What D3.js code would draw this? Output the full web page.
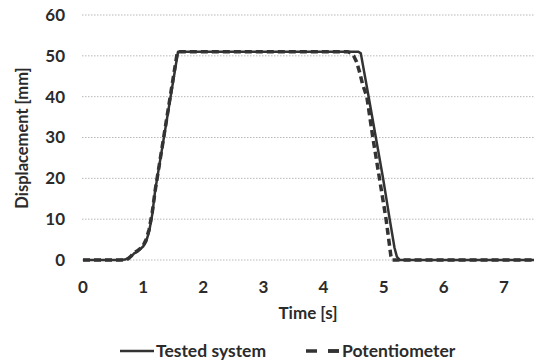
<!DOCTYPE html>
<html>
<head>
<meta charset="utf-8">
<script src="https://cdn.jsdelivr.net/npm/d3@7"></script>
<style>
  html, body { margin: 0; padding: 0; background: #fff; }
  svg { display: block; }
  text { font-family: Lato, "Open Sans", sans-serif; font-weight: bold; fill: #2b2b2b; }
</style>
</head>
<body>
<svg id="chart"></svg>
<script>
// values (time in s, displacement in mm)
const testedTime = [0, 0.6, 0.7, 0.8, 0.85, 0.9, 1.0, 1.05, 1.1, 1.15, 1.2, 1.58, 1.62, 4.58, 4.62, 4.75, 4.87, 4.99, 5.1, 5.18, 5.22, 5.27, 5.35, 6, 7, 7.5];
const testedValue = [0, 0, 0.1, 0.8, 1.6, 2.0, 3.3, 4.5, 7, 11, 17, 51, 51, 51, 50.6, 40, 30, 20, 10, 3, 0.8, 0, 0, 0, 0, 0];

const potTime = [0, 0.65, 0.75, 0.8, 0.85, 0.9, 0.95, 1.0, 1.05, 1.1, 1.15, 1.2, 1.57, 1.62, 4.4, 4.45, 4.5, 4.55, 4.6, 4.65, 4.72, 4.82, 4.93, 5.04, 5.12, 5.14, 5.3, 7.5];
const potValue = [0, 0, 0.3, 1, 1.8, 2.2, 2.8, 3.5, 5, 7.5, 11.5, 17, 51, 51, 51, 50.7, 50, 48.5, 46, 43, 40, 30, 20, 10, 1, 0, 0, 0];

const xTicks = [0, 1, 2, 3, 4, 5, 6, 7];
const yTicks = [0, 10, 20, 30, 40, 50, 60];

const width = 534, height = 363;
const margin = { left: 82, right: 0, top: 15, bottom: 103 };

const svg = d3.select("#chart").attr("width", width).attr("height", height);

const x = d3.scaleLinear().domain([0, 7.5]).range([margin.left + 1, width]);
const y = d3.scaleLinear().domain([0, 60]).range([height - margin.bottom, margin.top]);

// dotted grid
svg.append("g")
  .selectAll("line")
  .data(yTicks)
  .join("line")
  .attr("x1", margin.left)
  .attr("x2", width)
  .attr("y1", d => y(d))
  .attr("y2", d => y(d))
  .attr("stroke", "#b8b8b8")
  .attr("stroke-width", 1)
  .attr("stroke-dasharray", "1.5,1.5");

// y tick labels
svg.append("g")
  .selectAll("text")
  .data(yTicks)
  .join("text")
  .attr("x", 65)
  .attr("y", d => y(d))
  .attr("dy", "0.35em")
  .attr("text-anchor", "end")
  .style("font-size", "17px")
  .text(d => d);

// x tick labels
svg.append("g")
  .selectAll("text")
  .data(xTicks)
  .join("text")
  .attr("x", d => x(d))
  .attr("y", 287)
  .attr("dy", "0.35em")
  .attr("text-anchor", "middle")
  .style("font-size", "17px")
  .text(d => d);

// axis titles
svg.append("text")
  .attr("transform", "translate(22," + 138 + ") rotate(-90)")
  .attr("text-anchor", "middle")
  .attr("dy", "0.35em")
  .style("font-size", "16.5px")
  .text("Displacement [mm]");

svg.append("text")
  .attr("x", 308)
  .attr("y", 313)
  .attr("dy", "0.35em")
  .attr("text-anchor", "middle")
  .style("font-size", "17px")
  .text("Time [s]");

const line = d3.line()
  .x(d => x(d[0]))
  .y(d => y(d[1]));

const testedData = testedTime.map((t, i) => [t, testedValue[i]]);
const potData = potTime.map((t, i) => [t, potValue[i]]);

svg.append("path")
  .datum(testedData)
  .attr("d", line)
  .attr("fill", "none")
  .attr("stroke", "#333")
  .attr("stroke-width", 2.5)
  .attr("stroke-linejoin", "round");

svg.append("path")
  .datum(potData)
  .attr("d", line)
  .attr("fill", "none")
  .attr("stroke", "#333")
  .attr("stroke-width", 3.5)
  .attr("stroke-dasharray", "7,4");

// legend
const legend = svg.append("g");
legend.append("line")
  .attr("x1", 120).attr("x2", 154)
  .attr("y1", 351).attr("y2", 351)
  .attr("stroke", "#333").attr("stroke-width", 2.5);
legend.append("text")
  .attr("x", 156).attr("y", 351).attr("dy", "0.35em")
  .style("font-size", "17.5px")
  .text("Tested system");
legend.append("line")
  .attr("x1", 306).attr("x2", 339)
  .attr("y1", 351).attr("y2", 351)
  .attr("stroke", "#333").attr("stroke-width", 3.5)
  .attr("stroke-dasharray", "11,11");
legend.append("line")
  .attr("x1", 328).attr("x2", 339)
  .attr("y1", 351).attr("y2", 351)
  .attr("stroke", "#333").attr("stroke-width", 3.5);
legend.append("text")
  .attr("x", 342).attr("y", 351).attr("dy", "0.35em")
  .style("font-size", "17.5px")
  .text("Potentiometer");
</script>
</body>
</html>
